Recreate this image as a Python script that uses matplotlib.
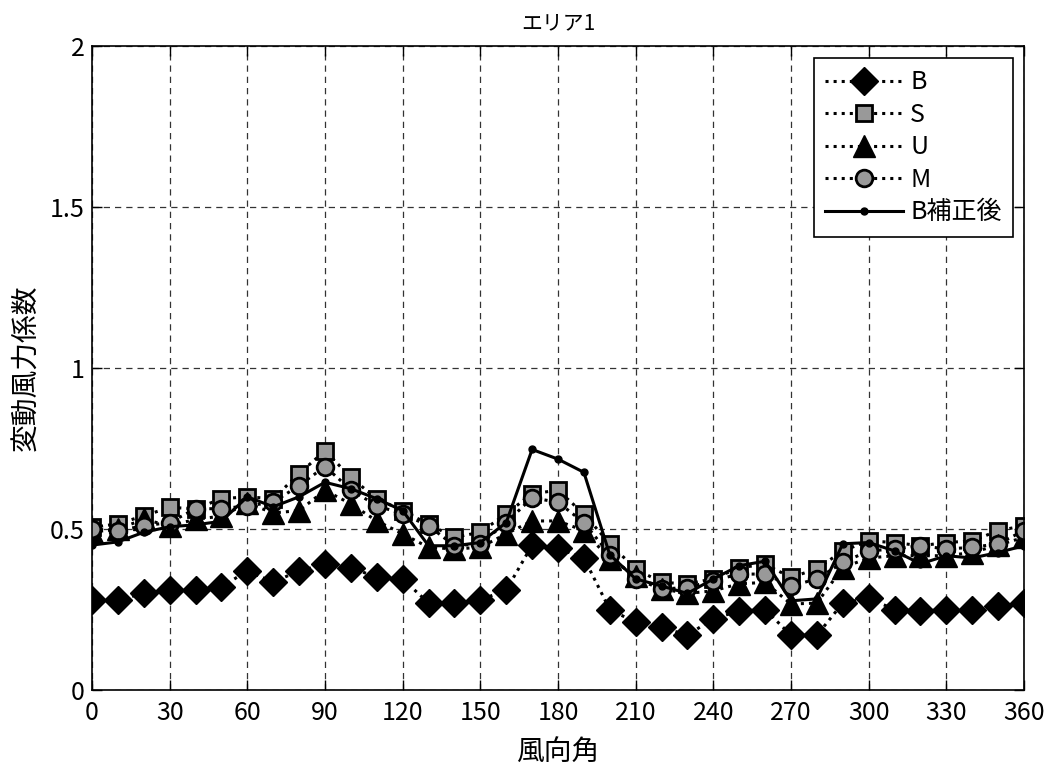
import matplotlib
matplotlib.use("Agg")
import matplotlib.pyplot as plt

plt.rcParams['font.family'] = ['Noto Sans CJK JP', 'DejaVu Sans']

angles = list(range(0, 361, 10))
B = [0.28, 0.28, 0.30, 0.31, 0.31, 0.32, 0.37, 0.335, 0.37, 0.39, 0.38, 0.35, 0.345,
     0.27, 0.27, 0.28, 0.31, 0.45, 0.44, 0.41, 0.25, 0.21, 0.195, 0.17, 0.222, 0.245,
     0.25, 0.17, 0.17, 0.27, 0.285, 0.25, 0.245, 0.25, 0.25, 0.26, 0.27]
S = [0.505, 0.516, 0.541, 0.567, 0.563, 0.594, 0.60, 0.594, 0.672, 0.743, 0.66, 0.594, 0.557,
     0.515, 0.474, 0.49, 0.547, 0.61, 0.62, 0.547, 0.454, 0.376, 0.334, 0.33, 0.345, 0.38,
     0.39, 0.35, 0.376, 0.432, 0.463, 0.458, 0.448, 0.458, 0.463, 0.495, 0.51]
U = [0.49, 0.50, 0.53, 0.51, 0.53, 0.54, 0.58, 0.55, 0.557, 0.62, 0.578, 0.525, 0.485,
     0.443, 0.438, 0.443, 0.485, 0.525, 0.525, 0.495, 0.407, 0.355, 0.314, 0.30, 0.308, 0.33,
     0.334, 0.267, 0.27, 0.38, 0.41, 0.417, 0.417, 0.417, 0.427, 0.45, 0.474]
M = [0.50, 0.495, 0.51, 0.52, 0.563, 0.563, 0.572, 0.583, 0.635, 0.694, 0.622, 0.572, 0.547,
     0.51, 0.448, 0.454, 0.52, 0.597, 0.583, 0.52, 0.42, 0.345, 0.314, 0.318, 0.34, 0.36,
     0.36, 0.323, 0.345, 0.396, 0.432, 0.438, 0.448, 0.438, 0.443, 0.454, 0.495]
B_corr = [0.45, 0.46, 0.49, 0.507, 0.513, 0.524, 0.60, 0.569, 0.60, 0.645, 0.625, 0.594, 0.557,
          0.448, 0.448, 0.458, 0.52, 0.747, 0.717, 0.676, 0.42, 0.345, 0.323, 0.30, 0.345, 0.386,
          0.40, 0.277, 0.283, 0.454, 0.458, 0.432, 0.392, 0.417, 0.41, 0.427, 0.448]

xticks = list(range(0, 361, 30))
yticks = [0, 0.5, 1, 1.5, 2]
ytick_labels = ['0', '0.5', '1', '1.5', '2']

fig = plt.figure(figsize=(10.53, 7.66), dpi=100)
ax = fig.add_axes([92 / 1053, 76 / 766, 932 / 1053, 644 / 766])

gray = '#999999'
ax.plot(angles, B, linestyle=':', color='k', lw=2.2, marker='D', ms=14,
        mfc='k', mec='k', label='B')
ax.plot(angles, S, linestyle=':', color='k', lw=2.2, marker='s', ms=12,
        mfc=gray, mec='k', mew=2, label='S')
ax.plot(angles, U, linestyle=':', color='k', lw=2.2, marker='^', ms=16,
        mfc='k', mec='k', label='U')
ax.plot(angles, M, linestyle=':', color='k', lw=2.2, marker='o', ms=12,
        mfc=gray, mec='k', mew=2, label='M')
ax.plot(angles, B_corr, linestyle='-', color='k', lw=2.2, marker='o', ms=5,
        mfc='k', mec='k', label='B補正後')

ax.set_xlim(0, 360)
ax.set_ylim(0, 2)
ax.set_xticks(xticks)
ax.set_yticks(yticks)
ax.set_yticklabels(ytick_labels)
ax.tick_params(direction='in', top=True, right=True, length=7, width=1,
               labelsize=18)
ax.tick_params(axis='x', pad=7)
ax.tick_params(axis='y', pad=5)
ax.grid(True, linestyle=(0, (5, 4)), color='#333333', lw=0.9)
for sp in ax.spines.values():
    sp.set_linewidth(1.2)
    sp.set_color('k')

ax.set_title('エリア1', fontsize=15, pad=12)
ax.set_xlabel('風向角', fontsize=20, labelpad=8)
ax.set_ylabel('変動風力係数', fontsize=20, labelpad=6)

leg = ax.legend(loc='upper right', bbox_to_anchor=(0.988, 0.981), fontsize=18,
                numpoints=1, handlelength=3.1, handletextpad=0.3,
                labelspacing=0.26, borderpad=0.45, fancybox=False,
                framealpha=1, edgecolor='k', borderaxespad=0)
leg.get_frame().set_linewidth(1.2)

fig.savefig('out.png', dpi=100)
